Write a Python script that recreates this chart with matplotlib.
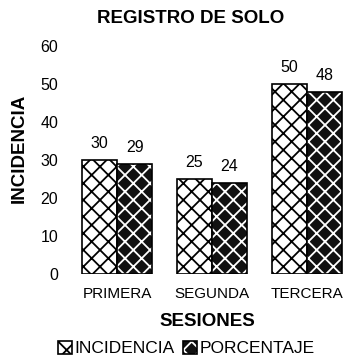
import numpy as np
import matplotlib
matplotlib.use('Agg')
import matplotlib.pyplot as plt
from matplotlib.patches import Patch
from matplotlib.legend_handler import HandlerTuple

plt.rcParams['font.family'] = ['Liberation Sans', 'DejaVu Sans']
plt.rcParams['hatch.linewidth'] = 1.3

# datos
sesiones = ['PRIMERA', 'SEGUNDA', 'TERCERA']
incidencia = [30, 25, 50]
porcentaje = [29, 24, 48]
series = ['INCIDENCIA', 'PORCENTAJE']

fig = plt.figure(figsize=(3.45, 3.63), dpi=100)
ax = fig.add_axes([0.203, 0.245, 0.797, 0.628])

x = np.arange(len(sesiones))
w = 0.37

# barras claras con trama negra
ax.bar(x - w / 2, incidencia, w, color='white', edgecolor='black',
       hatch='xx', linewidth=1.2)
# barras oscuras con trama blanca
ax.bar(x + w / 2, porcentaje, w, color='#111111', edgecolor='white',
       hatch='xx', linewidth=0)
ax.bar(x + w / 2, porcentaje, w, fill=False, edgecolor='black', linewidth=1.2)

for xi, v in zip(x - w / 2, incidencia):
    ax.text(xi, v + 2.3, str(v), ha='center', va='bottom', fontsize=11.5)
for xi, v in zip(x + w / 2, porcentaje):
    ax.text(xi, v + 2.3, str(v), ha='center', va='bottom', fontsize=11.5)

ax.set_xlim(-0.495, 2.4)
ax.set_ylim(0, 60)
ax.set_yticks(range(0, 61, 10))
ax.set_xticks(x)
ax.set_xticklabels(sesiones, fontsize=11)
ax.tick_params(axis='y', labelsize=11.5, length=0, pad=8.5)
ax.tick_params(axis='x', length=0, pad=9)
for s in ax.spines.values():
    s.set_visible(False)

ax.set_xlabel('SESIONES', fontsize=13.5, fontweight='bold', labelpad=9)
ax.set_ylabel('INCIDENCIA', fontsize=13.5, fontweight='bold')
ax.yaxis.set_label_coords(-0.155, 0.55)
fig.text(0.553, 0.95, 'REGISTRO DE SOLO', ha='center', va='center',
         fontsize=13.5, fontweight='bold')

h1 = Patch(facecolor='white', edgecolor='black', hatch='xx', linewidth=1.2)
h2 = (Patch(facecolor='#111111', edgecolor='white', hatch='xx', linewidth=0),
      Patch(fill=False, edgecolor='black', linewidth=1.2))
fig.legend([h1, h2], series, loc='lower center', bbox_to_anchor=(0.54, -0.025),
           ncol=2, frameon=False, fontsize=12.5, handlelength=0.8,
           handleheight=0.8, handletextpad=0.15, columnspacing=0.5,
           handler_map={tuple: HandlerTuple(ndivide=1, pad=0)})

fig.savefig('out.png', dpi=100)
